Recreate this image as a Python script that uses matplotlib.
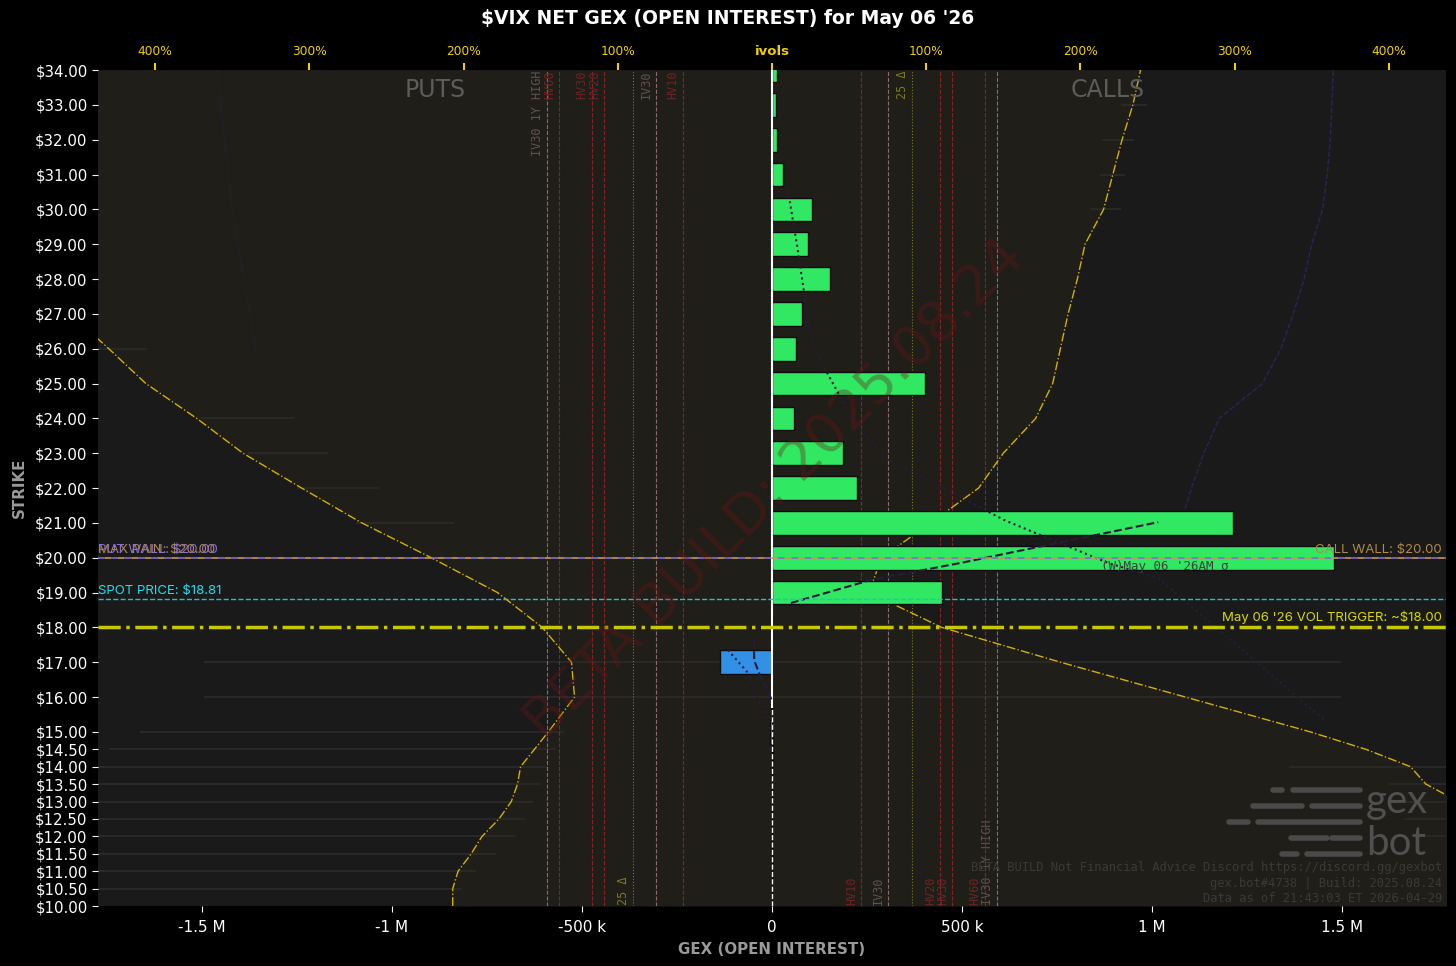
import numpy as np
import matplotlib.pyplot as plt
from matplotlib.ticker import FuncFormatter

plt.rcParams['text.parse_math'] = False

# strikes ($) and net gex per strike
strikes = [10, 10.5, 11, 11.5, 12, 12.5, 13, 13.5, 14, 14.5, 15,
           16, 17, 18, 19, 20, 21, 22, 23, 24, 25,
           26, 27, 28, 29, 30, 31, 32, 33, 34]
net_gex = [0, 0, 0, 0, 0, 0, 0, 0, 0, 3000, -5000,
           -3000, -137000, 0, 447000, 1479000, 1213000, 224000, 187000, 58000, 403000,
           63000, 79000, 153000, 95000, 105000, 29000, 13000, 10000, 13000]

# implied vols (1.0 = 100%)
put_iv = [2.07, 2.07, 2.035, 1.95, 1.88, 1.77, 1.69, 1.65, 1.63, 1.54, 1.45,
          1.28, 1.30, 1.49, 1.78, 2.21, 2.66, 3.05, 3.43, 3.73, 4.06,
          4.30, 4.55, 4.80, 5.00, 5.20, 5.40, 5.60, 5.80, 6.00]
call_iv = [6.40, 6.10, 5.80, 5.50, 5.20, 4.70, 4.45, 4.24, 4.14, 3.85, 3.49,
           2.68, 1.87, 1.10, 0.63, 0.71, 1.03, 1.34, 1.50, 1.71, 1.82,
           1.87, 1.92, 1.98, 2.03, 2.15, 2.21, 2.27, 2.34, 2.39]

# faint iv ranges per strike (signed ivol, left end / right end)
rng_strikes = [10.5, 11, 11.5, 12, 12.5, 13, 13.5, 14, 14.5, 15, 16, 17,
               21, 22, 23, 24, 26,
               12, 12.5, 13, 13.5, 14, 30, 31, 32, 33]
rng_lo = [-4.4, -4.4, -4.4, -4.4, -4.4, -4.4, -4.4, -4.4, -4.3, -4.1, -3.68, -3.68,
          -2.70, -3.08, -3.40, -3.70, -4.40,
          4.20, 4.10, 4.00, 4.00, 3.35, 2.06, 2.13, 2.14, 2.26]
rng_hi = [-2.01, -1.92, -1.79, -1.66, -1.60, -1.55, -1.50, -1.45, -1.40, -1.35, 3.69, 3.69,
          -2.06, -2.55, -2.88, -3.10, -4.05,
          4.40, 4.40, 4.40, 4.40, 4.40, 2.26, 2.29, 2.35, 2.43]

# second (far) iv curves, faint purple
far_strikes = [21, 22, 23, 24, 25, 26, 27, 28, 29, 30, 31, 32, 33, 34]
far_call_iv = [2.65, 2.72, 2.80, 2.90, 3.18, 3.30, 3.38, 3.45, 3.50, 3.57, 3.60, 3.62, 3.63, 3.64]
far_put_strikes = [26, 28, 30, 32, 34]
far_put_iv = [3.35, 3.42, 3.50, 3.55, 3.60]

# sigma curves (gex axis)
sig_dot_x = [42000, 68000, 103000, 137000, 174000, 216000, 295000, 611000, 884000, 1016000, 1453000]
sig_dot_y = [30.55, 28.83, 26.25, 25.47, 24.73, 23.87, 22.89, 21.08, 19.85, 19.41, 15.34]
sig_dash_x = [50000, 260000, 497000, 1016000]
sig_dash_y = [18.70, 19.36, 19.85, 21.02]
sig_dot2_x = [-116000, -63000, -3000]
sig_dot2_y = [17.35, 16.69, 15.05]
sig_dash2_x = [-47000, -47000, -34000, 0]
sig_dash2_y = [17.63, 17.06, 16.69, 15.9]

# reference vols
ref_names = ['IV30 1Y HIGH', 'HV60', 'HV30', 'HV20', 'IV30', 'HV10']
ref_vals = [1.46, 1.38, 1.17, 1.09, 0.755, 0.58]
ref_kind = ['iv', 'hv', 'hv', 'hv', 'iv', 'hv']
put_25d = 0.90
call_25d = 0.91

spot = 18.81
vol_trigger = 18.0
call_wall = 20.0
put_wall = 20.0
max_pain = 20.0

strikes = np.array(strikes)
net_gex = np.array(net_gex)

fig = plt.figure(figsize=(14.56, 9.66), dpi=100, facecolor='black')
ax = fig.add_axes([0.0673, 0.0621, 0.9258, 0.8654])
ax.set_facecolor('#1a1a1a')
for s in ax.spines.values():
    s.set_visible(False)

# ivol layer
ax.fill_betweenx(strikes, -np.array(put_iv), 0, color='#201e19', lw=0, zorder=0)
ax.fill_betweenx(strikes, 0, np.array(call_iv), color='#201e19', lw=0, zorder=0)
ax.hlines(rng_strikes, rng_lo, rng_hi, color='#2b2b2b', lw=1.2, zorder=1)
ax.plot(-np.array(put_iv), strikes, color='#d4b000', lw=1, ls='-.', zorder=3)
ax.plot(call_iv, strikes, color='#d4b000', lw=1, ls='-.', zorder=3)
ax.plot(far_call_iv, far_strikes, color='#33205a', lw=1, ls='--', zorder=2)
ax.plot(-np.array(far_put_iv), far_put_strikes, color='#2a1f38', lw=1, ls=':', zorder=2)

for nome, v, k in zip(ref_names, ref_vals, ref_kind):
    cor = '#8a6a6a' if k == 'iv' else '#8b2222'
    txt = '#5e5252' if k == 'iv' else '#6e2424'
    ax.axvline(-v, color=cor, lw=0.8, ls='--', zorder=1)
    ax.axvline(v, color=cor, lw=0.8, ls='--', zorder=1)
    ax.text(-v - 0.02, 33.98, nome, rotation=90, ha='right', va='top', color=txt,
            fontsize=8.5, family='DejaVu Sans Mono', zorder=1)
    ax.text(v - 0.02, 10.02, nome, rotation=90, ha='right', va='bottom', color=txt,
            fontsize=8.5, family='DejaVu Sans Mono', zorder=1)
ax.axvline(-put_25d, color='#7a7a20', lw=0.8, ls=':', zorder=1)
ax.axvline(call_25d, color='#7a7a20', lw=0.8, ls=':', zorder=1)
ax.text(-put_25d - 0.02, 10.02, '25 Δ', rotation=90, ha='right', va='bottom', color='#7e7a20',
        fontsize=8.5, family='DejaVu Sans Mono')
ax.text(call_25d - 0.02, 33.98, '25 Δ', rotation=90, ha='right', va='top', color='#7e7a20',
        fontsize=8.5, family='DejaVu Sans Mono')

ax.set_xlim(-4.37, 4.37)
ax.set_ylim(10, 34)
ax.set_yticks(strikes)
ax.set_yticklabels([f'${s:.2f}' for s in strikes])
ax.tick_params(axis='y', colors='white', labelsize=10.8, length=4)
ax.set_ylabel('STRIKE', color='#9a9a9a', fontsize=10.8, fontweight='bold', labelpad=6)

# gex layer
gx = ax.twiny()
gx.patch.set_visible(False)
for s in gx.spines.values():
    s.set_visible(False)

# ivol ticks on top, gex ticks on bottom
ax.xaxis.tick_top()
ax.set_xticks([-4, -3, -2, -1, 0, 1, 2, 3, 4])
ax.set_xticklabels(['400%', '300%', '200%', '100%', 'ivols', '100%', '200%', '300%', '400%'])
ax.tick_params(axis='x', colors='#f0d000', labelsize=8.8, length=5, width=1.5, pad=4)
ax.get_xticklabels()[4].set_fontweight('bold')
ax.get_xticklabels()[4].set_fontsize(9.5)

cores = ['#30e862' if v > 0 else '#3290e6' for v in net_gex]
gx.barh(strikes, net_gex, height=0.68, color=cores, edgecolor='#0c0c0c', lw=1, zorder=3)
gx.axvline(0, ymin=(15.7 - 10) / 24, ymax=1, color='white', lw=1.5, zorder=4)
gx.axvline(0, ymax=(15.7 - 10) / 24, color='white', lw=1, ls='--', zorder=4)

gx.plot(sig_dot_x, sig_dot_y, color='#2a1a3a', lw=1.5, ls=':', zorder=5)
gx.plot(sig_dash_x, sig_dash_y, color='#2a1a3a', lw=1.5, ls='--', zorder=5)
gx.plot(sig_dot2_x, sig_dot2_y, color='#2a1a3a', lw=1.5, ls=':', zorder=5)
gx.plot(sig_dash2_x, sig_dash2_y, color='#2a1a3a', lw=1.5, ls='--', zorder=5)
gx.text(866000, 19.76, "(W)May 06 '26AM σ", color='#3e3e3e', fontsize=9,
        family='DejaVu Sans Mono', va='center', zorder=5)

# levels
gx.axhline(put_wall, color='#7f6fd0', lw=1.2, ls=(0, (4, 4)), zorder=6)
gx.axhline(call_wall, color='#c8964e', lw=1.2, ls=(4, (4, 4)), zorder=6)
gx.axhline(spot, color='#20c0d0', lw=1, ls='--', zorder=6)
gx.axhline(vol_trigger, color='#c8c800', lw=2.5, ls='-.', zorder=6)

lab = dict(family=['Inter', 'DejaVu Sans'], fontsize=9.5)
trans = gx.get_yaxis_transform()
gx.text(0.0, max_pain + 0.05, f'MAX PAIN: ${max_pain:.2f}', color='#b08a48', transform=trans,
        va='bottom', ha='left', zorder=7, **lab)
gx.text(0.0, put_wall + 0.05, f'PUT WALL: ${put_wall:.2f}', color='#8a70d0', transform=trans,
        va='bottom', ha='left', zorder=7, **lab)
gx.text(0.997, call_wall + 0.05, f'CALL WALL: ${call_wall:.2f}', color='#b08a48', transform=trans,
        va='bottom', ha='right', zorder=7, **lab)
gx.text(0.0, spot + 0.05, f'SPOT PRICE: ${spot:.2f}', color='#20e0f0', transform=trans,
        va='bottom', ha='left', zorder=7, **lab)
gx.text(0.997, vol_trigger + 0.1, f"May 06 '26 VOL TRIGGER: ~${vol_trigger:.2f}", color='#d8d800',
        transform=trans, va='bottom', ha='right', zorder=7, **lab)

gx.set_xlim(-1.773e6, 1.773e6)
gx.xaxis.tick_bottom()
gx.xaxis.set_label_position('bottom')
gx.set_xticks([-1.5e6, -1e6, -5e5, 0, 5e5, 1e6, 1.5e6])


def fmt_gex(v, pos):
    if v == 0:
        return '0'
    if abs(v) >= 1e6:
        return f'{v / 1e6:g} M'
    return f'{v / 1e3:g} k'


gx.xaxis.set_major_formatter(FuncFormatter(fmt_gex))
gx.tick_params(axis='x', colors='white', labelsize=11, length=4, pad=6)
gx.set_xlabel('GEX (OPEN INTEREST)', color='#9a9a9a', fontsize=10.8, fontweight='bold', labelpad=5)

# decorations
gx.text(0.25, 0.976, 'PUTS', transform=gx.transAxes, color='#5c5c5c', fontsize=17,
        ha='center', va='center')
gx.text(0.749, 0.976, 'CALLS', transform=gx.transAxes, color='#5c5c5c', fontsize=17,
        ha='center', va='center')
gx.text(0.502, 0.498, 'BETA BUILD: 2025.08.24', transform=gx.transAxes, color='#6a1515',
        alpha=0.35, fontsize=40, rotation=45, ha='center', va='center', zorder=8)

# gex bot logo
linhas = [(790, [(1273, 1282), (1293, 1360)]),
          (806, [(1253, 1302), (1312, 1360)]),
          (822, [(1229, 1248), (1258, 1360)]),
          (838, [(1291, 1327), (1332, 1360)]),
          (854, [(1282, 1297), (1307, 1360)])]
for py, segs in linhas:
    fy = (906 - py) / 836
    for a, b in segs:
        gx.plot([(a - 98) / 1348, (b - 98) / 1348], [fy, fy], transform=gx.transAxes,
                color='#4a4a4a', lw=4, solid_capstyle='round', zorder=2)
gx.text((1366 - 98) / 1348, (906 - 801) / 836, 'gex', transform=gx.transAxes, color='#505050',
        fontsize=29, family='Lato', ha='left', va='center', zorder=2)
gx.text((1366 - 98) / 1348, (906 - 843) / 836, 'bot', transform=gx.transAxes, color='#505050',
        fontsize=29, family='Lato', ha='left', va='center', zorder=2)

rodape = ['BETA BUILD Not Financial Advice Discord https://discord.gg/gexbot',
          'gex.bot#4738 | Build: 2025.08.24',
          'Data as of 21:43:03 ET 2026-04-29']
for i, t in enumerate(rodape):
    gx.text(0.997, 0.0455 - i * 0.018, t, transform=gx.transAxes, color='#3c3a36',
            fontsize=8.75, family='DejaVu Sans Mono', ha='right', va='center', zorder=2)

fig.text(0.5, 0.981, "$VIX NET GEX (OPEN INTEREST) for May 06 '26", color='white', fontsize=13.5,
         fontweight='bold', ha='center', va='center')

fig.savefig('out.png', dpi=100, facecolor='black')
